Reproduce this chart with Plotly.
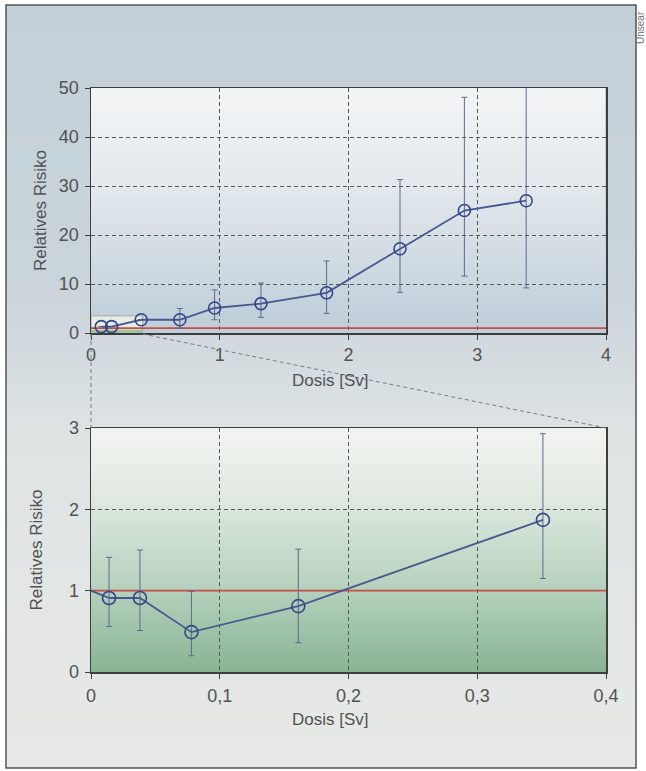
import plotly.graph_objects as go

# ---------------- data ----------------
# upper panel (0 - 4 Sv)
dose_hi = [0.08, 0.16, 0.39, 0.69, 0.96, 1.32, 1.83, 2.40, 2.90, 3.38]
rr_hi = [1.3, 1.3, 2.7, 2.7, 5.1, 6.0, 8.2, 17.2, 25.0, 27.0]
ci_up_hi = [None, None, None, 5.0, 8.8, 10.2, 14.7, 31.3, 48.1, 52.0]
ci_lo_hi = [None, None, None, 1.0, 2.7, 3.2, 4.0, 8.3, 11.6, 9.2]

# lower panel (0 - 0.4 Sv)
dose_lo = [0.014, 0.038, 0.078, 0.161, 0.351]
rr_lo = [0.91, 0.91, 0.49, 0.81, 1.87]
ci_up_lo = [1.41, 1.50, 0.99, 1.51, 2.93]
ci_lo_lo = [0.56, 0.51, 0.20, 0.36, 1.15]
line_start_dose = [0.0]
line_start_rr = [1.0]

ref_rr = 1.0

xticks_hi = [0, 1, 2, 3, 4]
xtext_hi = ["0", "1", "2", "3", "4"]
yticks_hi = [0, 10, 20, 30, 40, 50]
xticks_lo = [0, 0.1, 0.2, 0.3, 0.4]
xtext_lo = ["0", "0,1", "0,2", "0,3", "0,4"]
yticks_lo = [0, 1, 2, 3]

x_title = "Dosis [Sv]"
y_title = "Relatives Risiko"

# ---------------- geometry helpers ----------------
W, H = 646, 771
ML, MR, MT, MB = 91, 40, 88, 99
PW, PH = W - ML - MR, H - MT - MB


def px(x):
    return (x - ML) / PW


def py(y):
    return (H - MB - y) / PH


def lerp_color(stops, y):
    for (y0, c0), (y1, c1) in zip(stops, stops[1:]):
        if y0 <= y <= y1:
            t = (y - y0) / (y1 - y0) if y1 > y0 else 0
            c = [round(a + (b - a) * t) for a, b in zip(c0, c1)]
            return "rgb(%d,%d,%d)" % tuple(c)
    c = stops[-1][1] if y > stops[-1][0] else stops[0][1]
    return "rgb(%d,%d,%d)" % tuple(c)


shapes = []


def gradient(x0, x1, y0, y1, stops, step=3):
    y = y0
    while y < y1:
        yb = min(y + step + 0.6, y1)
        shapes.append(dict(type="rect", xref="paper", yref="paper",
                           x0=px(x0), x1=px(x1), y0=py(yb), y1=py(y),
                           fillcolor=lerp_color(stops, y + step / 2),
                           line=dict(width=0), layer="below"))
        y += step


# page background
gradient(6, 636, 5, 768, [(5, (195, 208, 216)), (300, (203, 213, 219)),
                          (430, (222, 227, 228)), (768, (231, 233, 230))], step=4)
# upper plot background
gradient(91, 605, 88, 333, [(88, (243, 245, 245)), (190, (226, 232, 236)),
                            (333, (190, 205, 216))])
# lower plot background
gradient(91, 606, 428, 672, [(428, (243, 244, 241)), (500, (224, 233, 224)),
                             (590, (180, 209, 188)), (672, (136, 180, 148))])

# zoom box in upper panel
shapes.append(dict(type="rect", xref="x", yref="y", x0=0, x1=0.4, y0=0, y1=3.5,
                   fillcolor="rgb(232,237,228)", line=dict(color="rgb(160,170,170)", width=1),
                   layer="below"))
shapes.append(dict(type="rect", xref="x", yref="y", x0=0, x1=0.4, y0=0, y1=0.7,
                   fillcolor="rgb(160,195,160)", line=dict(width=0), layer="below"))

# connector dashed lines
shapes.append(dict(type="line", xref="paper", yref="paper", x0=px(91), x1=px(91),
                   y0=py(334), y1=py(428), line=dict(color="rgb(120,125,128)", width=1, dash="4px,3px")))
shapes.append(dict(type="line", xref="paper", yref="paper", x0=px(142.5), x1=px(606),
                   y0=py(334), y1=py(428), line=dict(color="rgb(120,125,128)", width=1, dash="4px,3px")))
# outer frame
shapes.append(dict(type="rect", xref="paper", yref="paper", x0=px(6), x1=px(636),
                   y0=py(768), y1=py(5), line=dict(color="rgb(80,85,88)", width=1.5)))

# ---------------- traces ----------------
LINE_C = "rgb(72,88,145)"
MARK_C = "rgb(52,70,138)"
ERR_C = "rgb(95,105,140)"
RED_C = "rgb(196,80,70)"


def err(vals, ups, los):
    plus = [None if u is None else u - v for u, v in zip(ups, vals)]
    minus = [None if l is None else v - l for l, v in zip(los, vals)]
    return plus, minus


fig = go.Figure()

# reference lines (RR = 1)
fig.add_trace(go.Scatter(x=[xticks_hi[0], xticks_hi[-1]], y=[ref_rr, ref_rr], mode="lines",
                         line=dict(color=RED_C, width=1.6), xaxis="x", yaxis="y",
                         showlegend=False, hoverinfo="skip"))
fig.add_trace(go.Scatter(x=[xticks_lo[0], xticks_lo[-1]], y=[ref_rr, ref_rr], mode="lines",
                         line=dict(color=RED_C, width=1.6), xaxis="x2", yaxis="y2",
                         showlegend=False, hoverinfo="skip"))

p_hi, m_hi = err(rr_hi, ci_up_hi, ci_lo_hi)
fig.add_trace(go.Scatter(x=dose_hi, y=rr_hi, mode="lines+markers",
                         line=dict(color=LINE_C, width=1.8),
                         marker=dict(symbol="circle-open", size=12, color=MARK_C, line=dict(width=1.6)),
                         error_y=dict(type="data", array=p_hi, arrayminus=m_hi, symmetric=False,
                                      color=ERR_C, thickness=1, width=3),
                         xaxis="x", yaxis="y", showlegend=False, hoverinfo="skip"))

p_lo, m_lo = err(rr_lo, ci_up_lo, ci_lo_lo)
fig.add_trace(go.Scatter(x=line_start_dose + dose_lo[:1], y=line_start_rr + rr_lo[:1], mode="lines",
                         line=dict(color=LINE_C, width=1.8),
                         xaxis="x2", yaxis="y2", showlegend=False, hoverinfo="skip"))
fig.add_trace(go.Scatter(x=dose_lo, y=rr_lo, mode="lines+markers",
                         line=dict(color=LINE_C, width=1.8),
                         marker=dict(symbol="circle-open", size=13, color=MARK_C, line=dict(width=1.6)),
                         error_y=dict(type="data", array=p_lo, arrayminus=m_lo, symmetric=False,
                                      color=ERR_C, thickness=1, width=3),
                         xaxis="x2", yaxis="y2", showlegend=False, hoverinfo="skip"))

FONT = "Liberation Sans, Arial, sans-serif"
TXT_C = "rgb(80,82,84)"
TICK_FONT = dict(family=FONT, size=18, color=TXT_C)
axis_common = dict(showline=True, mirror=True, linecolor="rgb(60,62,64)", linewidth=1.5,
                   ticks="outside", ticklen=5, tickcolor="rgb(60,62,64)", tickwidth=1,
                   showgrid=True, gridcolor="rgb(85,88,90)", gridwidth=1, griddash="4px,3px",
                   zeroline=False, tickfont=TICK_FONT, fixedrange=True)

fig.update_layout(
    width=W, height=H,
    margin=dict(l=ML, r=MR, t=MT, b=MB),
    paper_bgcolor="white", plot_bgcolor="rgba(0,0,0,0)",
    font=dict(family=FONT, color=TXT_C),
    xaxis=dict(domain=[0, 1], range=[0, 4], tickvals=xticks_hi, ticktext=xtext_hi,
               anchor="y", ticklabelstandoff=0, **axis_common),
    yaxis=dict(domain=[py(333), 1], range=[0, 50], tickvals=yticks_hi, anchor="x",
               ticklabelstandoff=2,
               title=dict(text=y_title, font=dict(family=FONT, size=17, color=TXT_C), standoff=8),
               **axis_common),
    xaxis2=dict(domain=[0, 1], range=[0, 0.4], tickvals=xticks_lo, ticktext=xtext_lo,
                anchor="y2", ticklabelstandoff=2, **axis_common),
    yaxis2=dict(domain=[0, py(428)], range=[0, 3], tickvals=yticks_lo, anchor="x2",
                ticklabelstandoff=2,
                title=dict(text=y_title, font=dict(family=FONT, size=17, color=TXT_C), standoff=22),
                **axis_common),
    shapes=shapes,
    annotations=[
        dict(text=x_title, xref="paper", yref="paper", x=px(330), y=py(380),
             xanchor="center", yanchor="middle",
             showarrow=False, font=dict(family=FONT, size=17, color=TXT_C)),
        dict(text=x_title, xref="paper", yref="paper", x=px(330), y=py(719),
             xanchor="center", yanchor="middle",
             showarrow=False, font=dict(family=FONT, size=17, color=TXT_C)),
        dict(text="Unsear", xref="paper", yref="paper", x=px(640), y=py(28), textangle=-90,
             xanchor="center", yanchor="middle",
             showarrow=False, font=dict(family=FONT, size=10, color="rgb(110,112,114)")),
    ],
)

fig.write_html("out.html", config={"displayModeBar": False, "staticPlot": True},
               post_script="document.body.style.margin='0';document.body.style.overflow='hidden';")
